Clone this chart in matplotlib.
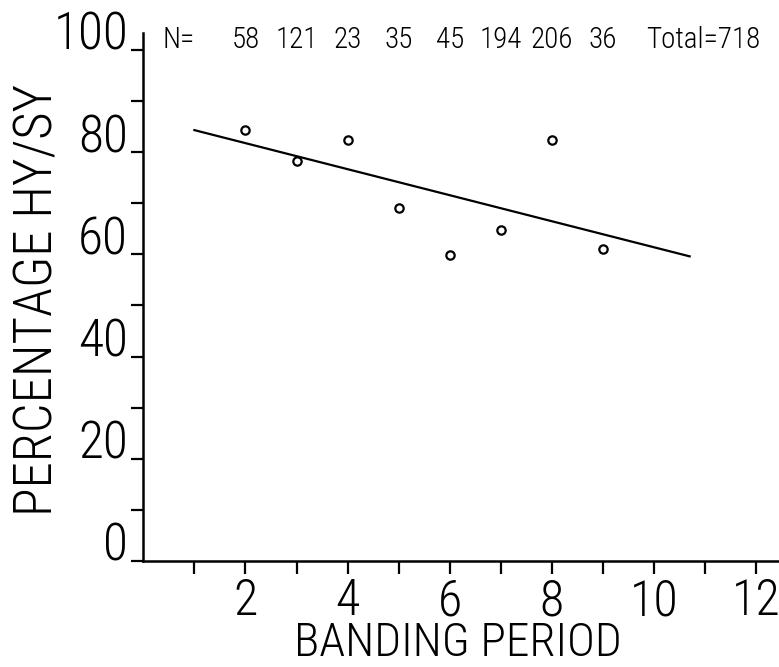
import matplotlib
matplotlib.use("Agg")
import matplotlib.pyplot as plt
from matplotlib import font_manager

# ---- data ----
banding_period = [2, 3, 4, 5, 6, 7, 8, 9]
percentage_hy_sy = [84.4, 78.2, 82.4, 69.1, 59.9, 64.7, 82.4, 61.0]
sample_sizes = [58, 121, 23, 35, 45, 194, 206, 36]
total_label = "Total=718"
fit_x = [1.0, 10.7]
fit_y = [84.3, 59.6]
y_major = [0, 20, 40, 60, 80, 100]
y_minor = [10, 30, 50, 70, 90]
x_major = [2, 4, 6, 8, 10, 12]
x_minor = [1, 3, 5, 7, 9, 11]

names = {f.name for f in font_manager.fontManager.ttflist}
fam = None
for cand in ["Roboto Condensed", "Liberation Sans Narrow", "DejaVu Sans Condensed", "Roboto", "DejaVu Sans"]:
    if cand in names:
        fam = cand
        break
plt.rcParams['font.family'] = [fam, 'DejaVu Sans']
plt.rcParams['font.weight'] = 'light'

fig = plt.figure(figsize=(7.79, 6.67), dpi=100)
ax = fig.add_axes([0.184, 0.159, 0.816, 0.7915])
ax.set_xlim(0, 12.45)
ax.set_ylim(0, 103.3)

ax.plot(fit_x, fit_y, color='black', lw=1.6)
ax.plot(banding_period, percentage_hy_sy, 'o', ms=6, mfc='white', mec='black', mew=1.6)

tk = dict(ha='center', va='center', fontsize=21, fontweight='light')
ax.text(0.69, 102, "N=", **tk)
for xv, n in zip(banding_period, sample_sizes):
    ax.text(xv, 102, str(n), **tk)
ax.text(10.96, 102, total_label, **tk)

for s in ['top', 'right']:
    ax.spines[s].set_visible(False)
for s in ['left', 'bottom']:
    ax.spines[s].set_linewidth(1.8)

ax.set_yticks(y_major)
ax.set_yticklabels([str(v) for v in y_major], fontsize=37, fontweight='light')
ax.set_yticks(y_minor, minor=True)
ax.set_xticks(x_major)
ax.set_xticklabels([str(v) for v in x_major], fontsize=36, fontweight='light')
ax.set_xticks(x_minor, minor=True)
ax.tick_params(axis='both', which='both', direction='out', length=9, width=1.6)
ax.tick_params(axis='y', pad=2)
ax.tick_params(axis='x', pad=3)
for lab in ax.get_yticklabels():
    lab.set_verticalalignment('baseline')

ax.set_ylabel("PERCENTAGE HY/SY", fontsize=38, fontweight='light')
ax.yaxis.set_label_coords(-0.125, 0.494)
ax.set_xlabel("BANDING PERIOD", fontsize=34, fontweight='light')
ax.xaxis.set_label_coords(0.495, -0.114)

fig.savefig("out.png", dpi=100)
